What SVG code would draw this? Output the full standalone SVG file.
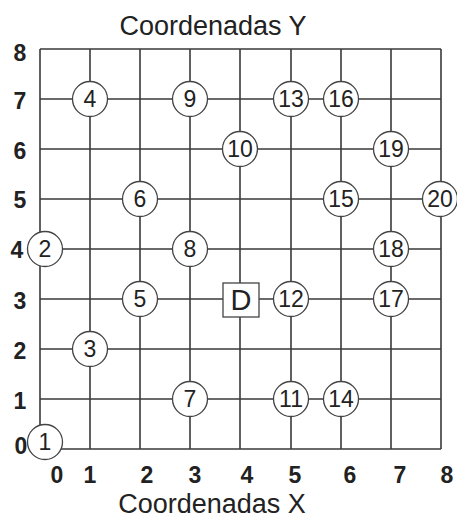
<svg xmlns="http://www.w3.org/2000/svg" width="457" height="518" viewBox="0 0 457 518">
<style>
.g{stroke:#3a3a3a;stroke-width:1.6;fill:none}
.n circle{fill:#fff;stroke:#444;stroke-width:1.3}
.n text{font-family:"Liberation Sans",Arial,sans-serif;font-size:23px;fill:#222;text-anchor:middle;dominant-baseline:central}
.ax text{font-family:"Liberation Sans",Arial,sans-serif;font-size:23px;fill:#222;text-anchor:middle;font-weight:bold}
.t{font-family:"Liberation Sans",Arial,sans-serif;font-size:27px;fill:#222;text-anchor:middle}
</style>
<rect width="457" height="518" fill="#fff"/>
<g id="connectors" class="g">
<path d="M40 49V449M90 49V449M140 49V449M190 49V449M240 49V449M291 49V449M341 49V449M391 49V449M441 49V449"/>
<path d="M40 49H441M40 99H441M40 149H441M40 199H441M40 249H441M40 299H441M40 349H441M40 399H441M40 449H441"/>
</g>
<text class="t" x="213" y="35">Coordenadas Y</text>
<text class="t" x="212" y="513">Coordenadas X</text>
<g id="yaxis" class="ax">
<text x="20" y="61">8</text><text x="20" y="109">7</text><text x="20" y="159">6</text><text x="20" y="208">5</text><text x="17" y="258">4</text><text x="20" y="309">3</text><text x="20" y="359">2</text><text x="20" y="409">1</text><text x="21" y="454">0</text>
</g>
<g id="xaxis" class="ax">
<text x="57" y="483">0</text><text x="90" y="483">1</text><text x="147" y="483">2</text><text x="195" y="483">3</text><text x="247" y="483">4</text><text x="295" y="483">5</text><text x="350" y="483">6</text><text x="400" y="483">7</text><text x="447" y="483">8</text>
</g>
<g id="n1" class="n"><circle cx="45" cy="442" r="17.5"/><text x="45" y="442">1</text></g>
<g id="n2" class="n"><circle cx="45" cy="249" r="17.5"/><text x="45" y="249">2</text></g>
<g id="n3" class="n"><circle cx="90" cy="349" r="17.5"/><text x="90" y="349">3</text></g>
<g id="n4" class="n"><circle cx="90" cy="99" r="17.5"/><text x="90" y="99">4</text></g>
<g id="n5" class="n"><circle cx="140" cy="299" r="17.5"/><text x="140" y="299">5</text></g>
<g id="n6" class="n"><circle cx="140" cy="199" r="17.5"/><text x="140" y="199">6</text></g>
<g id="n7" class="n"><circle cx="190" cy="399" r="17.5"/><text x="190" y="399">7</text></g>
<g id="n8" class="n"><circle cx="190" cy="249" r="17.5"/><text x="190" y="249">8</text></g>
<g id="n9" class="n"><circle cx="190" cy="99" r="17.5"/><text x="190" y="99">9</text></g>
<g id="n10" class="n"><circle cx="240" cy="149" r="17.5"/><text x="240" y="149">10</text></g>
<g id="n11" class="n"><circle cx="291" cy="399" r="17.5"/><text x="291" y="399">11</text></g>
<g id="n12" class="n"><circle cx="291" cy="299" r="17.5"/><text x="291" y="299">12</text></g>
<g id="n13" class="n"><circle cx="291" cy="99" r="17.5"/><text x="291" y="99">13</text></g>
<g id="n14" class="n"><circle cx="341" cy="399" r="17.5"/><text x="341" y="399">14</text></g>
<g id="n15" class="n"><circle cx="341" cy="199" r="17.5"/><text x="341" y="199">15</text></g>
<g id="n16" class="n"><circle cx="341" cy="99" r="17.5"/><text x="341" y="99">16</text></g>
<g id="n17" class="n"><circle cx="391" cy="299" r="17.5"/><text x="391" y="299">17</text></g>
<g id="n18" class="n"><circle cx="391" cy="249" r="17.5"/><text x="391" y="249">18</text></g>
<g id="n19" class="n"><circle cx="391" cy="149" r="17.5"/><text x="391" y="149">19</text></g>
<g id="n20" class="n"><circle cx="440" cy="199" r="17.5"/><text x="440" y="199">20</text></g>
<g id="nD"><rect x="223" y="283" width="36" height="34" fill="#fff" stroke="#444" stroke-width="1.3"/><text x="241" y="300" font-family="Liberation Sans,Arial,sans-serif" font-size="29" fill="#222" text-anchor="middle" dominant-baseline="central">D</text></g>
</svg>
